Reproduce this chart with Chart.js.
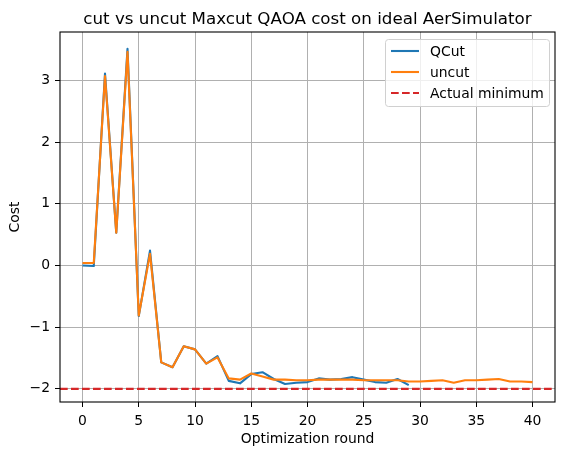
<!DOCTYPE html>
<html>
<head>
<meta charset="utf-8">
<script src="https://cdn.jsdelivr.net/npm/chart.js@4/dist/chart.umd.min.js"></script>
<style>
  html, body { margin: 0; padding: 0; background: #ffffff; }
  #wrap { width: 565px; height: 455px; }
</style>
</head>
<body>
<div id="wrap"><canvas id="c" width="565" height="455"></canvas></div>
<script>
const TITLE = 'cut vs uncut Maxcut QAOA cost on ideal AerSimulator';
const X_LABEL = 'Optimization round';
const Y_LABEL = 'Cost';

const QCUT = [0.00, -0.01, 3.11, 0.53, 3.51, -0.82, 0.24, -1.57, -1.65, -1.31,
              -1.36, -1.59, -1.47, -1.87, -1.91, -1.76, -1.73, -1.84, -1.92, -1.90,
              -1.89, -1.83, -1.85, -1.84, -1.81, -1.85, -1.89, -1.90, -1.84, -1.94];
const UNCUT = [0.04, 0.04, 3.07, 0.53, 3.46, -0.81, 0.19, -1.57, -1.65, -1.31,
               -1.36, -1.59, -1.49, -1.83, -1.85, -1.75, -1.80, -1.85, -1.85, -1.86,
               -1.86, -1.85, -1.85, -1.85, -1.85, -1.86, -1.86, -1.86, -1.86, -1.88,
               -1.88, -1.87, -1.86, -1.90, -1.86, -1.86, -1.85, -1.84, -1.88, -1.88, -1.89];
const ACTUAL_MIN = -2;

const X_TICKS = [0, 5, 10, 15, 20, 25, 30, 35, 40];
const Y_TICKS = [-2, -1, 0, 1, 2, 3];
const X_MIN = -2, X_MAX = 42;
const Y_MIN = -2.2125, Y_MAX = 3.7825;

const FONT = 'DejaVu Sans';
const toPts = arr => arr.map((v, i) => ({ x: i, y: v }));
const fmt = v => (v < 0 ? '\u2212' + Math.abs(v) : String(v));

const titlePlugin = {
  id: 'mplTitle',
  afterDraw(chart) {
    const ctx = chart.ctx, a = chart.chartArea;
    ctx.save();
    ctx.font = '16.7px "' + FONT + '"';
    ctx.fillStyle = '#000';
    ctx.textAlign = 'center';
    ctx.textBaseline = 'alphabetic';
    ctx.fillText(TITLE, (a.left + a.right) / 2, 24);
    ctx.restore();
  }
};

const framePlugin = {
  id: 'frame',
  afterDatasetsDraw(chart) {
    const ctx = chart.ctx, a = chart.chartArea;
    ctx.save();
    ctx.strokeStyle = '#000';
    ctx.lineWidth = 1.1;
    ctx.strokeRect(a.left, a.top, a.right - a.left, a.bottom - a.top);
    ctx.restore();
  }
};

const legendPlugin = {
  id: 'mplLegend',
  afterDraw(chart) {
    const ctx = chart.ctx, a = chart.chartArea;
    const w = 164, h = 67;
    const x = a.right - 6 - w, y = a.top + 7;
    ctx.save();
    ctx.beginPath();
    if (ctx.roundRect) ctx.roundRect(x + 0.5, y + 0.5, w, h, 3); else ctx.rect(x + 0.5, y + 0.5, w, h);
    ctx.fillStyle = 'rgba(255,255,255,0.8)';
    ctx.fill();
    ctx.strokeStyle = '#d0d0d0';
    ctx.lineWidth = 1;
    ctx.stroke();
    ctx.font = '13.9px "' + FONT + '"';
    ctx.textBaseline = 'middle';
    ctx.textAlign = 'left';
    chart.data.datasets.forEach((ds, i) => {
      const cy = y + 12 + i * 21;
      ctx.beginPath();
      ctx.setLineDash(ds.borderDash || []);
      ctx.strokeStyle = ds.borderColor;
      ctx.lineWidth = ds.borderWidth;
      ctx.moveTo(x + 6, cy);
      ctx.lineTo(x + 34, cy);
      ctx.stroke();
      ctx.setLineDash([]);
      ctx.fillStyle = '#000';
      ctx.fillText(ds.label, x + 45, cy + 1);
    });
    ctx.restore();
  }
};

new Chart(document.getElementById('c'), {
  type: 'line',
  data: {
    datasets: [
      { label: 'QCut', data: toPts(QCUT), borderColor: '#1f77b4', backgroundColor: '#1f77b4',
        borderWidth: 2.1, borderJoinStyle: 'round', pointRadius: 0, tension: 0, fill: false, order: 2 },
      { label: 'uncut', data: toPts(UNCUT), borderColor: '#ff7f0e', backgroundColor: '#ff7f0e',
        borderWidth: 2.1, borderJoinStyle: 'round', pointRadius: 0, tension: 0, fill: false, order: 1 },
      { label: 'Actual minimum', data: [{ x: X_MIN, y: ACTUAL_MIN }, { x: X_MAX, y: ACTUAL_MIN }],
        borderColor: '#d62728', backgroundColor: '#d62728', borderDash: [7.7, 3.3],
        borderWidth: 2.1, pointRadius: 0, tension: 0, fill: false, order: 0 }
    ]
  },
  options: {
    responsive: false,
    animation: false,
    layout: { padding: { top: 32, right: 10, left: 0, bottom: 0 } },
    plugins: {
      legend: { display: false },
      title: { display: false },
      tooltip: { enabled: false }
    },
    scales: {
      x: {
        type: 'linear', min: X_MIN, max: X_MAX,
        afterBuildTicks: s => { s.ticks = X_TICKS.map(v => ({ value: v })); },
        afterFit: s => { s.height = 53; },
        ticks: { callback: v => fmt(v), color: '#000', font: { family: FONT, size: 13.9 }, padding: 6, maxRotation: 0, autoSkip: false },
        grid: { color: '#b0b0b0', lineWidth: 1, tickColor: '#000', tickLength: 5, drawTicks: true },
        border: { display: false },
        title: { display: true, text: X_LABEL, color: '#000', font: { family: FONT, size: 13.9 }, padding: { top: 0, bottom: 7 } }
      },
      y: {
        type: 'linear', min: Y_MIN, max: Y_MAX,
        afterBuildTicks: s => { s.ticks = Y_TICKS.map(v => ({ value: v })); },
        afterFit: s => { s.width = 60; },
        ticks: { callback: v => fmt(v), color: '#000', font: { family: FONT, size: 13.9 }, padding: 5, autoSkip: false },
        grid: { color: '#b0b0b0', lineWidth: 1, tickColor: '#000', tickLength: 5, drawTicks: true },
        border: { display: false },
        title: { display: true, text: Y_LABEL, color: '#000', font: { family: FONT, size: 13.9 }, padding: { top: 7, bottom: 0 } }
      }
    }
  },
  plugins: [titlePlugin, framePlugin, legendPlugin]
});
</script>
</body>
</html>
